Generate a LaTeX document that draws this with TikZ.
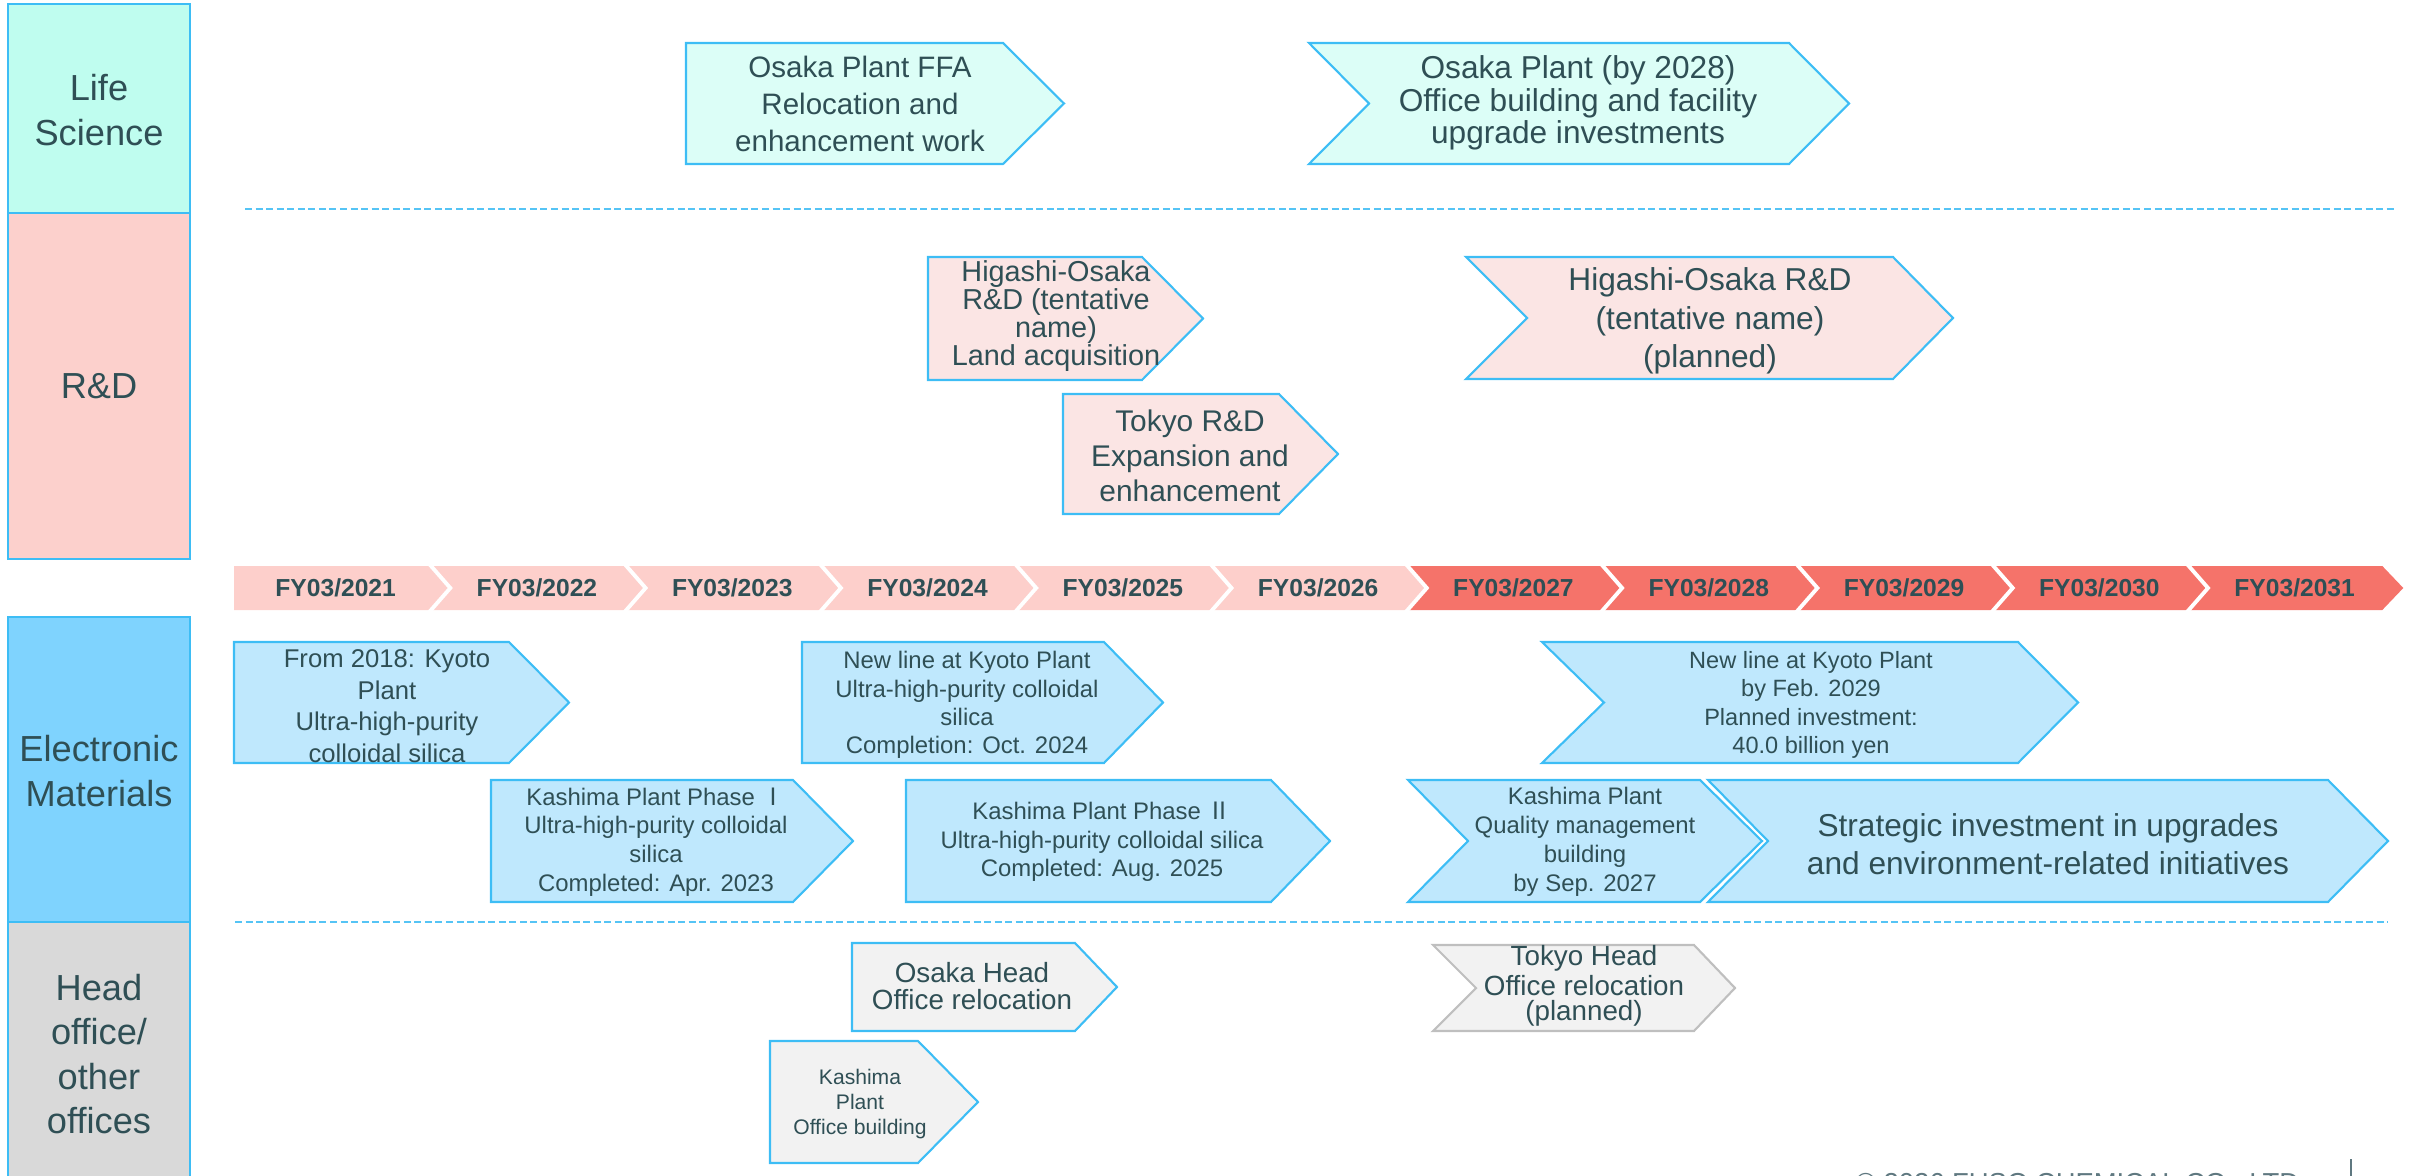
\documentclass[tikz,border=0pt]{standalone}
\usepackage{fontspec}
\setmainfont{Liberation Sans}
\newfontfamily\cjk{Noto Sans CJK JP}

\definecolor{ink}{HTML}{2F4F55}
\definecolor{edgeblue}{HTML}{3DBDF5}
\definecolor{dashblue}{HTML}{55C4F5}
\definecolor{lsside}{HTML}{BFFDEF}
\definecolor{lsfill}{HTML}{DCFEF7}
\definecolor{rdside}{HTML}{FCD0CC}
\definecolor{rdfill}{HTML}{FBE5E4}
\definecolor{emside}{HTML}{7FD3FE}
\definecolor{emfill}{HTML}{BFE8FD}
\definecolor{hoside}{HTML}{D9D9D9}
\definecolor{hofill}{HTML}{F2F2F2}
\definecolor{hoedge}{HTML}{BFBFBF}
\definecolor{tlpink}{HTML}{FDCFCB}
\definecolor{tlsalmon}{HTML}{F5736A}
\definecolor{footgray}{HTML}{5F7880}

% arrow-shaped box: style, left x, notch x, right x, tip x, top y, bottom y
\newcommand{\tagshape}[7]{%
  \path[#1] (#2,#6) -- (#4,#6) -- (#5,{(#6+#7)/2}) -- (#4,#7) -- (#2,#7)
    -- (#3,{(#6+#7)/2}) -- cycle;}

\begin{document}
\begin{tikzpicture}[x=0.01cm,y=-0.01cm,
  frame/.style={draw=edgeblue, line width=0.6pt, line join=miter},
  lsbox/.style={frame, fill=lsfill},
  rdbox/.style={frame, fill=rdfill},
  embox/.style={frame, fill=emfill},
  hobox/.style={frame, fill=hofill},
  hogray/.style={draw=hoedge, line width=0.6pt, fill=hofill},
  txt/.style={text=ink, align=center, inner sep=0pt},
  side/.style={txt, font=\fontsize{10.3}{12.6}\selectfont},
  yrlabel/.style={txt, font=\fontsize{7}{8}\selectfont\bfseries},
  sep/.style={dashblue, line width=0.45pt, dash pattern=on 2pt off 1pt}]

\useasboundingbox (0,0) rectangle (2420,1176);

% category column
\draw[frame, fill=lsside] (8,4) rectangle (190,213);
\draw[frame, fill=rdside] (8,213) rectangle (190,559);
\draw[frame, fill=emside] (8,617) rectangle (190,922);
\draw[frame, fill=hoside] (8,922) rectangle (190,1190);
\node[side] (catls) at (99,110) {Life\\Science};
\node[side] (catrd) at (99,386) {R\&D};
\node[side] (catem) at (99,771) {Electronic\\Materials};
\node[side] (catho) at (99,1054) {Head\\office/\\other\\offices};

% row separators
\draw[sep] (245,209) -- (2396,209);
\draw[sep] (235,922) -- (2388,922);

% fiscal-year timeline
\foreach \k/\yr in {0/2021,1/2022,2/2023,3/2024,4/2025,5/2026,6/2027,7/2028,8/2029,9/2030,10/2031} {
  \pgfmathsetmacro\xa{234+195.3*\k}
  \pgfmathsetmacro\xb{234+195.3*(\k+1)}
  \pgfmathsetmacro\xn{\k==0 ? \xa : \xa+21}
  \pgfmathsetmacro\xc{(\xa+\xb)/2 + (\k==0 ? 4 : 10)}
  \ifnum\k<6 \def\segcol{tlpink}\else\def\segcol{tlsalmon}\fi
  \fill[\segcol] (\xa,566) -- (\xb,566) -- ({\xb+21},588) -- (\xb,610) -- (\xa,610) -- (\xn,588) -- cycle;
  \node[yrlabel] (fy\yr) at (\xc,588) {FY03/\yr};
}
\foreach \k in {1,...,10} {
  \pgfmathsetmacro\xa{234+195.3*\k}
  \draw[white, line width=1.1pt] (\xa,564) -- ({\xa+21},588) -- (\xa,612);
}

% Life Science
\tagshape{lsbox}{686}{686}{1003}{1064}{43}{164}
\node[txt, font=\fontsize{8.4}{10.5}\selectfont] (ffa) at (860,104)
  {Osaka Plant FFA\\Relocation and\\enhancement work};
\tagshape{lsbox}{1309}{1369}{1789}{1849}{43}{164}
\node[txt, font=\fontsize{9}{9.2}\selectfont] (osaka28) at (1578,103)
  {Osaka Plant (by 2028)\\Office building and facility\\upgrade investments};

% R&D
\tagshape{rdbox}{928}{928}{1142}{1203}{257}{380}
\node[txt, font=\fontsize{8.2}{7.9}\selectfont] (higland) at (1056,316)
  {Higashi-Osaka\\R\&D (tentative\\name)\\Land acquisition};
\tagshape{rdbox}{1063}{1063}{1279}{1338}{394}{514}
\node[txt, font=\fontsize{8.5}{9.9}\selectfont] (tokrd) at (1190,456)
  {Tokyo R\&D\\Expansion and\\enhancement};
\tagshape{rdbox}{1466}{1527}{1893}{1953}{257}{379}
\node[txt, font=\fontsize{9}{10.9}\selectfont] (higplan) at (1710,321)
  {Higashi-Osaka R\&D\\(tentative name)\\(planned)};

% Electronic Materials
\tagshape{embox}{234}{234}{509}{569}{642}{763}
\node[txt, font=\fontsize{7.3}{9}\selectfont] (kyoto18) at (387,706)
  {From 2018: Kyoto\\Plant\\Ultra-high-purity\\colloidal silica};
\tagshape{embox}{802}{802}{1104}{1163}{642}{763}
\node[txt, font=\fontsize{6.8}{8}\selectfont] (kyoto24) at (967,705)
  {New line at Kyoto Plant\\Ultra-high-purity colloidal\\silica\\Completion: Oct. 2024};
\tagshape{embox}{491}{491}{793}{853}{780}{902}
\node[txt, font=\fontsize{6.8}{8.2}\selectfont] (kashi1) at (656,842)
  {Kashima Plant Phase {\cjk Ⅰ}\\Ultra-high-purity colloidal\\silica\\Completed: Apr. 2023};
\tagshape{embox}{906}{906}{1271}{1330}{780}{902}
\node[txt, font=\fontsize{6.8}{8.1}\selectfont] (kashi2) at (1102,842)
  {Kashima Plant Phase {\cjk Ⅱ}\\Ultra-high-purity colloidal silica\\Completed: Aug. 2025};
\tagshape{embox}{1542}{1604}{2018}{2078}{642}{763}
\node[txt, font=\fontsize{6.7}{8.1}\selectfont] (kyoto29) at (1811,705)
  {New line at Kyoto Plant\\by Feb. 2029\\Planned investment:\\40.0 billion yen};
\tagshape{embox}{1408}{1468}{1700}{1762}{780}{902}
\node[txt, font=\fontsize{6.8}{8.2}\selectfont] (kashiqm) at (1585,842)
  {Kashima Plant\\Quality management\\building\\by Sep. 2027};
\tagshape{embox}{1708}{1768}{2328}{2388}{780}{902}
\node[txt, font=\fontsize{9}{10.9}\selectfont] (strat) at (2048,844)
  {Strategic investment in upgrades\\and environment-related initiatives};

% Head office / other offices
\tagshape{hobox}{852}{852}{1075}{1117}{943}{1031}
\node[txt, font=\fontsize{7.9}{7.6}\selectfont] (osakaho) at (972,986)
  {Osaka Head\\Office relocation};
\tagshape{hobox}{770}{770}{918}{978}{1041}{1163}
\node[txt, font=\fontsize{6}{7}\selectfont] (kashioff) at (860,1104)
  {Kashima\\Plant\\Office building};
\tagshape{hogray}{1433}{1476}{1694}{1735}{945}{1031}
\node[txt, font=\fontsize{7.9}{7.3}\selectfont] (tokyoho) at (1584,986)
  {Tokyo Head\\Office relocation\\(planned)};

% footer
\node[anchor=north west, inner sep=0pt, text=footgray, font=\fontsize{7.8}{9}\selectfont] (copy)
  at (1855,1173) {© 2026 FUSO CHEMICAL CO., LTD.};
\draw[footgray, line width=0.4pt] (2351,1159) -- (2351,1180);

\end{tikzpicture}
\end{document}
